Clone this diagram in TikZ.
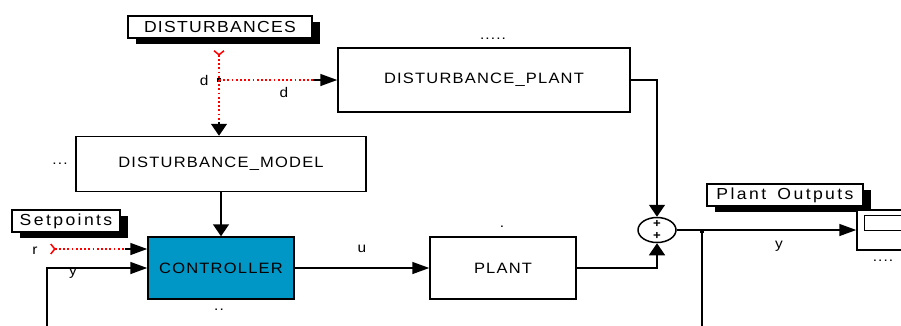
\documentclass[tikz,border=0pt]{standalone}
\usepackage{fontspec}
\setmainfont{Liberation Sans}[LetterSpace=8,FakeStretch=1.1]
\usetikzlibrary{arrows.meta,positioning,shapes.geometric,shadows}
\definecolor{ctrlblue}{RGB}{0,150,198}

\begin{document}
\begin{tikzpicture}[x=1pt,y=-1pt,font=\fontsize{15pt}{17pt}\selectfont,line width=1.5pt,
    block/.style={draw, fill=white, inner sep=0pt},
    tag/.style={draw, fill=white, line width=1.3pt, inner sep=0pt, minimum height=22pt,
        font=\fontsize{16pt}{18pt}\selectfont\addfontfeatures{LetterSpace=15},
        drop shadow={shadow xshift=8pt, shadow yshift=-6pt, fill=black, opacity=1}},
    sig/.style={red, dash pattern=on 1.8pt off 2.4pt},
    inport/.style={{Straight Barb[reversed,length=4pt,width=10pt]}-},
    harrow/.style={-{Triangle[length=17pt,width=12pt]}},
    varrow/.style={-{Triangle[length=12pt,width=16pt]}},
    junction/.style={fill=black, inner sep=0pt, minimum size=4pt},
    lbl/.style={font=\fontsize{14pt}{16pt}\selectfont, inner sep=1pt}]
    \useasboundingbox (0,0) rectangle (901,325);
    \clip (0,0) rectangle (901,325);

    % labels with shadow
    \node[tag, minimum width=184pt, font=\fontsize{16pt}{18pt}\selectfont] (dist) at (220,27) {DISTURBANCES};
    \node[tag, minimum width=108pt] (setp) at (66,221) {Setpoints};
    \node[tag, minimum width=156pt] (pout) at (785,195) {Plant\hspace{4pt} Outputs};

    % blocks
    \node[block, minimum width=292pt, minimum height=64pt] (dplant) at (484,80) {DISTURBANCE\_PLANT};
    \node[block, minimum width=290pt, minimum height=55pt] (dmodel) at (221,164) {DISTURBANCE\_MODEL};
    \node[block, fill=ctrlblue, minimum width=146pt, minimum height=62pt] (ctrl) at (221,268) {CONTROLLER};
    \node[block, minimum width=146pt, minimum height=62pt] (plant) at (503,268) {PLANT};
    \node[draw, ellipse, inner sep=0pt, minimum width=38pt, minimum height=25pt] (sum) at (657,230) {};
    \node[font=\fontsize{12pt}{12pt}\selectfont\bfseries, inner sep=0pt] (plusa) at (657,224) {+};
    \node[font=\fontsize{12pt}{12pt}\selectfont\bfseries, inner sep=0pt] (plusb) at (657,236) {+};
    \node[block, minimum width=76pt, minimum height=40pt] (scope) at (895,230) {};
    \node[block, anchor=north west, line width=1.3pt, minimum width=50pt, minimum height=15pt] (screen) at (864,215) {};

    % branch points and free ends
    \node[junction] (dsplit) at (219,80) {};
    \node[junction] (ysplit) at (702,231) {};
    \coordinate (dsrc) at (219,50);
    \coordinate (dmid) at (219,122);
    \coordinate (dpmid) at (313,80);
    \coordinate (rsrc) at (50,249);
    \coordinate (rmid) at (125,249);
    \coordinate (yfb) at (47,330);
    \coordinate (yout) at (702,330);

    % signals
    \draw[sig, inport] (dsrc) -- (dsplit.center);
    \draw[sig] (dsplit.center) -- (dmid);
    \draw[varrow] (dmid) -- (dmid |- dmodel.north);
    \draw[sig] (dsplit.center) -- (dpmid);
    \draw[harrow] (dpmid) -- (dplant.west);
    \draw[varrow] (dmodel.south) -- (ctrl.north);
    \draw[sig, inport] (rsrc) -- (rmid);
    \draw[harrow] (rmid) -- (rmid -| ctrl.west);
    \draw[harrow] (yfb) |- (ctrl.west);
    \draw[harrow] (ctrl.east) -- (plant.west);
    \draw[varrow] (plant.east) -| (sum.south);
    \draw[varrow] (dplant.east) -| (sum.north);
    \draw[harrow] (sum.east) -- (sum.east -| scope.west);
    \draw (ysplit.center) -- (yout);

    % signal names and block dots
    \node[lbl, left=6pt of dsplit] (dname) {d};
    \node[lbl] (dname2) at (284,92) {d};
    \node[lbl] (uname) at (362,249) {u};
    \node[lbl] (rname) at (35,251) {r};
    \node[lbl] (yname) at (73,273) {y};
    \node[lbl] (yname2) at (779,246) {y};
    \node[lbl] (dpdots) at (493,39) {.....};
    \node[lbl] (dmdots) at (60,164) {...};
    \node[lbl] (cdots) at (219,310) {..};
    \node[lbl] (pdots) at (502,227) {.};
    \node[lbl] (sdots) at (883,261) {....};
\end{tikzpicture}
\end{document}
